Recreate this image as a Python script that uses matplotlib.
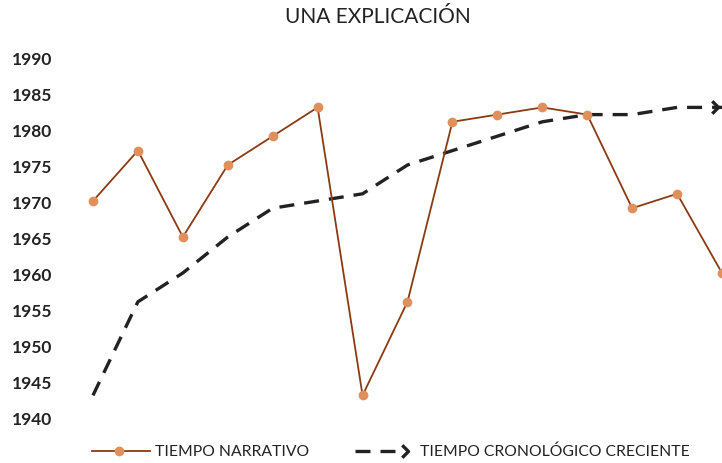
import matplotlib.pyplot as plt
from matplotlib.lines import Line2D
from matplotlib.path import Path

# data
positions = list(range(15))
narrativo = [1970, 1977, 1965, 1975, 1979, 1983, 1943, 1956, 1981, 1982, 1983, 1982, 1969, 1971, 1960]
cronologico = [1943, 1956, 1960, 1965, 1969, 1970, 1971, 1975, 1977, 1979, 1981, 1982, 1982, 1983, 1983]
yticks = [1940, 1945, 1950, 1955, 1960, 1965, 1970, 1975, 1980, 1985, 1990]

BROWN = '#8B3A12'
ORANGE = '#E0905C'
DARK = '#222222'
FONT = 'Lato'

# open chevron used as arrow head
chevron = Path([(-1, 1), (0, 0), (-1, -1)], [Path.MOVETO, Path.LINETO, Path.LINETO])

W, H = 722, 464
fig = plt.figure(figsize=(W / 100, H / 100), dpi=100)
ax = fig.add_axes([70.5 / W, 46 / H, (722 - 70.5) / W, 360 / H])

ax.plot(positions, narrativo, color=BROWN, linewidth=1.3, marker='o', markersize=6,
        markerfacecolor=ORANGE, markeredgecolor=ORANGE, zorder=3)
ax.plot(positions, cronologico, color=DARK, linewidth=2.4, dashes=(4.5, 3),
        zorder=2, dash_capstyle='butt')
ax.plot([positions[-1] - 0.1], [cronologico[-1]], linestyle='none', marker=chevron,
        markersize=9, markeredgewidth=2.4, markeredgecolor=DARK, fillstyle='none', zorder=2)

ax.set_xlim(-0.5, 14)
ax.set_ylim(1940, 1990)
ax.set_yticks(yticks)
ax.set_xticks([])
ax.tick_params(axis='y', length=0, pad=13, labelsize=12.5)
for lab in ax.get_yticklabels():
    lab.set_fontweight('bold')
    lab.set_family(FONT)
    lab.set_color('#222222')
for s in ax.spines.values():
    s.set_visible(False)

fig.text(378 / W, 1 - 17 / H, 'UNA EXPLICACIÓN', ha='center', va='center',
         fontsize=15, family=FONT, color='#222222')

# legend drawn by hand (arrow handle)
ly = 1 - 452 / H
fig.add_artist(Line2D([92 / W, 150 / W], [ly, ly], color=BROWN, linewidth=1.3,
                      transform=fig.transFigure))
fig.add_artist(Line2D([119 / W], [ly], marker='o', markersize=6, color=ORANGE,
                      transform=fig.transFigure))
fig.text(155 / W, ly, 'TIEMPO NARRATIVO', ha='left', va='center', fontsize=11.3,
         family=FONT, color='#222222')
fig.add_artist(Line2D([355 / W, 405 / W], [ly, ly], color=DARK, linewidth=2.4,
                      dashes=(4.5, 3), transform=fig.transFigure))
fig.add_artist(Line2D([408 / W], [ly], marker=chevron, markersize=9, markeredgewidth=2.4,
                      markeredgecolor=DARK, fillstyle='none', linestyle='none',
                      transform=fig.transFigure))
fig.text(420 / W, ly, 'TIEMPO CRONOLÓGICO CRECIENTE', ha='left', va='center', fontsize=11.3,
         family=FONT, color='#222222')

fig.savefig('out.png', dpi=100)
